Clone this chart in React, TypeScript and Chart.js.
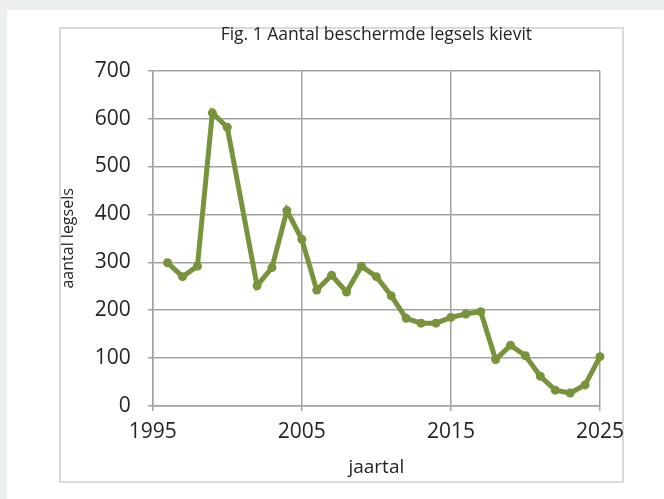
import React, { useEffect, useRef } from "react";
import { Chart, registerables } from "chart.js";

Chart.register(...registerables);

const chartTitle = "Fig. 1 Aantal beschermde legsels kievit";
const xTitle = "jaartal";
const yTitle = "aantal legsels";

// 2001: geen gegevens (MKZ-crisis)
const years = [
  1996, 1997, 1998, 1999, 2000, 2002, 2003, 2004, 2005, 2006, 2007, 2008, 2009,
  2010, 2011, 2012, 2013, 2014, 2015, 2016, 2017, 2018, 2019, 2020, 2021, 2022,
  2023, 2024, 2025,
];
const nests = [
  299, 270, 292, 612, 582, 251, 289, 408, 348, 242, 273, 238, 292,
  270, 230, 183, 173, 173, 185, 192, 197, 97, 127, 105, 62, 33,
  27, 44, 103,
];

const xMin = 1995;
const xMax = 2025;
const xStep = 10;
const yMin = 0;
const yMax = 700;
const yStep = 100;

const FONT = "'Open Sans', 'DejaVu Sans', sans-serif";
const GRID = "#a3a3a3";
const TEXT = "#242424";
const LINE = "#77933c";

export default function App() {
  const ref = useRef<HTMLCanvasElement | null>(null);

  useEffect(() => {
    if (!ref.current) return;
    const chart = new Chart(ref.current, {
      type: "line",
      data: {
        datasets: [
          {
            data: years.map((y, i) => ({ x: y, y: nests[i] })),
            borderColor: LINE,
            backgroundColor: LINE,
            borderWidth: 5,
            pointRadius: 4.5,
            pointBorderWidth: 0,
            pointBackgroundColor: LINE,
            tension: 0,
            clip: false as any,
          },
        ],
      },
      options: {
        responsive: false,
        animation: false,
        layout: { padding: { left: 0, right: 0, top: 0, bottom: 0 } },
        plugins: {
          legend: { display: false },
          tooltip: { enabled: false },
          title: {
            display: true,
            text: chartTitle,
            fullSize: false,
            color: TEXT,
            font: { family: FONT, size: 17.5, weight: "normal" as any, lineHeight: 1.2 },
            padding: { top: 5, bottom: 24.7 },
          },
        },
        scales: {
          x: {
            type: "linear",
            min: xMin,
            max: xMax,
            ticks: {
              stepSize: xStep,
              color: TEXT,
              font: { family: FONT, size: 21 },
              padding: 8,
              maxRotation: 0,
              callback: (v: any) => String(v),
            },
            grid: { color: GRID, lineWidth: 1.5, tickLength: 5 },
            border: { color: GRID, width: 1.5 },
            title: {
              display: true,
              text: xTitle,
              color: TEXT,
              font: { family: FONT, size: 19, lineHeight: 1.2 },
              padding: { top: 0, bottom: 6 },
            },
            afterFit: (s: any) => {
              s.height = 79;
            },
          },
          y: {
            min: yMin,
            max: yMax,
            ticks: {
              stepSize: yStep,
              color: TEXT,
              font: { family: FONT, size: 21 },
              padding: 17,
            },
            grid: { color: GRID, lineWidth: 1.5, tickLength: 5 },
            border: { color: GRID, width: 1.5 },
            title: {
              display: true,
              text: yTitle,
              color: TEXT,
              font: { family: FONT, size: 16, lineHeight: 1.2 },
              padding: { top: 2.4, bottom: 0 },
            },
            afterFit: (s: any) => {
              s.width = 96.7;
            },
          },
        },
      },
    });
    return () => chart.destroy();
  }, []);

  return (
    <div style={{ position: "fixed", inset: 0, background: "#ecf0ed", overflow: "hidden" }}>
      <div style={{ position: "absolute", left: 7, top: 10, right: 0, bottom: 0, background: "#ffffff" }} />
      <div
        style={{
          position: "absolute",
          left: 59,
          top: 27,
          width: 565,
          height: 456,
          boxSizing: "border-box",
          border: "2px solid #dadada",
        }}
      />
      <canvas
        ref={ref}
        width={576}
        height={465}
        style={{ position: "absolute", left: 56, top: 20, width: 576, height: 465 }}
      />
    </div>
  );
}
